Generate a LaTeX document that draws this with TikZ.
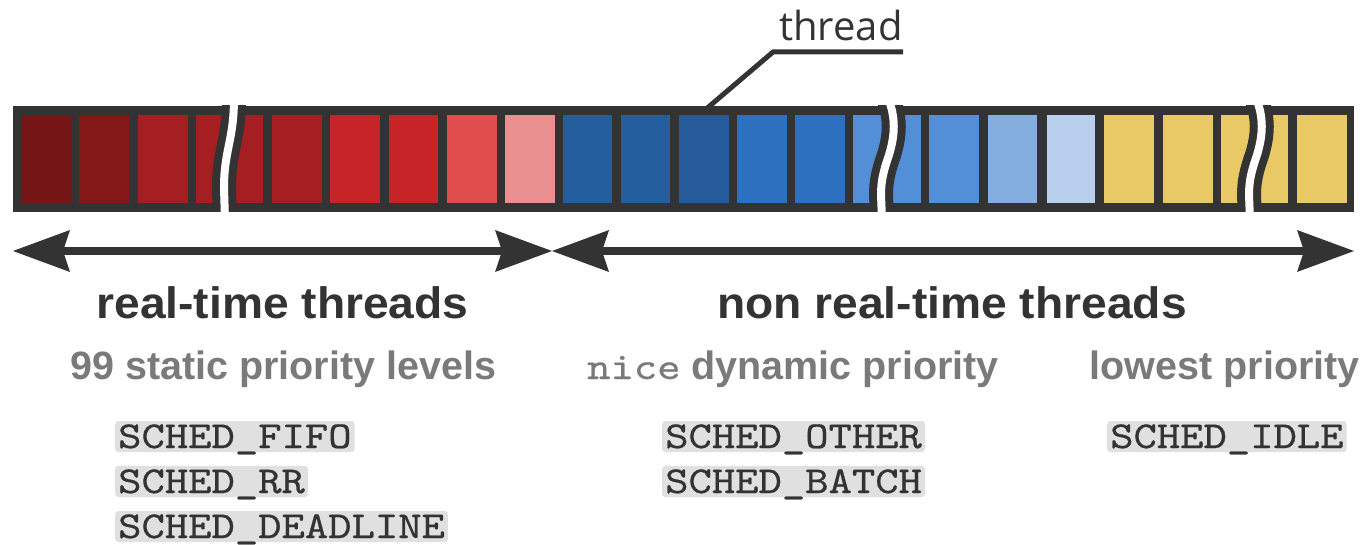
\documentclass[tikz,border=0pt]{standalone}
\usepackage{fontspec}
\usetikzlibrary{arrows.meta}
\newfontfamily\lsans{Liberation Sans}
\newfontfamily\lsanswide[FakeStretch=1.05]{Liberation Sans}
\newfontfamily\codefont[Extension=.otf, FakeStretch=1.17, FakeBold=0.6]{lmmono10-regular}
\newfontfamily\osans{Open Sans}
\definecolor{ol}{HTML}{333333}
\definecolor{gr}{HTML}{7A7A7A}
\definecolor{codebg}{HTML}{E0E0E0}
\definecolor{rA}{HTML}{751515}
\definecolor{rB}{HTML}{841818}
\definecolor{rC}{HTML}{A51E22}
\definecolor{rD}{HTML}{C62426}
\definecolor{rE}{HTML}{DF4D4D}
\definecolor{rF}{HTML}{EA8F8F}
\definecolor{bA}{HTML}{245E9E}
\definecolor{bB}{HTML}{255B9A}
\definecolor{bC}{HTML}{2E70C0}
\definecolor{bD}{HTML}{528FD6}
\definecolor{bE}{HTML}{84AEE0}
\definecolor{bF}{HTML}{B8D0EE}
\definecolor{yA}{HTML}{E8C965}
\tikzset{
  cell/.style={draw=none, inner sep=0pt, minimum height=88pt},
  breakdark/.style={draw=ol, line width=24pt},
  breakwhite/.style={draw=white, line width=8pt},
  leader/.style={draw=ol, line width=5pt, line join=miter},
  dblarrow/.style={draw=ol, line width=8pt,
    arrows={Stealth[length=57pt,width=42pt,inset=7pt,line width=0pt]-Stealth[length=57pt,width=42pt,inset=7pt,line width=0pt]}},
  title/.style={font=\lsanswide\bfseries\fontsize{44}{52}\selectfont, text=ol, inner sep=0pt, anchor=base},
  subtitle/.style={font=\lsans\bfseries\fontsize{39.5}{48}\selectfont, text=gr, inner sep=0pt},
  code/.style={font=\codefont\fontsize{38}{46}\selectfont, text=ol, fill=codebg, rounded corners=3pt,
    inner xsep=3pt, inner ysep=1pt, text height=26pt, text depth=3pt, anchor=base west},
  thrlbl/.style={font=\osans\fontsize{40}{48}\selectfont, text=ol, inner sep=0pt, anchor=base west}
}
\begin{document}
\begin{tikzpicture}[x=1pt,y=-1pt]
\useasboundingbox (0,0) rectangle (1367,545);
% bar body
\fill[ol] (13,106) rectangle (1354,212);
% cells
\foreach \n/\a/\b/\c in {1/21/71/rA, 2/79/129/rB, 3/138/188/rC, 4/196/234/rC,
  5/220/263/rC, 6/272/322/rC, 7/330/380/rD, 8/389/438/rD, 9/447/497/rE, 10/505/555/rF,
  11/563/612/bA, 12/621/670/bA, 13/679/729/bB, 14/737/787/bC, 15/795/845/bC, 16/853/898/bD,
  17/878/921/bD, 18/929/979/bD, 19/988/1037/bE, 20/1047/1095/bF,
  21/1104/1154/yA, 22/1163/1213/yA, 23/1221/1266/yA, 24/1246/1288/yA, 25/1297/1347/yA}
  \node[cell, fill=\c, minimum width={(\b-\a)*1pt}] (c\n) at ({(\a+\b)/2},159) {};
% breaks
\begin{scope}
  \clip (13,106) rectangle (1354,212);
  \draw[breakdark] (234,98) .. controls (234,140) and (224,150) .. (224,188) -- (225,220);
  \draw[breakdark] (888,98) .. controls (896,118) and (895,135) .. (889,155) .. controls (883,172) and (881,182) .. (881,195) -- (882,220);
  \draw[breakdark] (1256,98) .. controls (1264,118) and (1263,135) .. (1257,155) .. controls (1251,172) and (1249,182) .. (1249,195) -- (1250,220);
\end{scope}
\draw[breakwhite] (234,98) .. controls (234,140) and (224,150) .. (224,188) -- (225,220);
\draw[breakwhite] (888,98) .. controls (896,118) and (895,135) .. (889,155) .. controls (883,172) and (881,182) .. (881,195) -- (882,220);
\draw[breakwhite] (1256,98) .. controls (1264,118) and (1263,135) .. (1257,155) .. controls (1251,172) and (1249,182) .. (1249,195) -- (1250,220);
% thread label and leader
\node[thrlbl] (thr) at (779,41) {thread};
\coordinate (lk) at (773,52);
\coordinate (le) at (903,52);
\draw[leader] ([yshift=4pt]c13.north) -- (lk) -- (le);
% arrows
\coordinate (aL) at (13,251);
\coordinate (aM) at (552,251);
\coordinate (aR) at (1354,251);
\draw[dblarrow] (aL) -- (aM);
\draw[dblarrow] (aM) -- (aR);
% titles
\node[title] (rt) at (282.5,318) {real-time threads};
\node[title] (nrt) at (952,318) {non real-time threads};
% subtitles
\node[subtitle, anchor=base west] (s1) at (70,379) {99 static priority levels};
\node[subtitle, anchor=base west] (s2) at (587,379) {{\codefont\mdseries\color{gr}\fontsize{38}{46}\selectfont nice} dynamic priority};
\node[subtitle, anchor=base east] (s3) at (1360,379) {lowest priority};
% code labels
\node[code] (fifo) at (115,448) {SCHED\_FIFO};
\node[code] (rr) at (115,493) {SCHED\_RR};
\node[code] (dl) at (115,538) {SCHED\_DEADLINE};
\node[code] (oth) at (662,448) {SCHED\_OTHER};
\node[code] (bat) at (662,493) {SCHED\_BATCH};
\node[code] (idl) at (1107,448) {SCHED\_IDLE};
\end{tikzpicture}
\end{document}
